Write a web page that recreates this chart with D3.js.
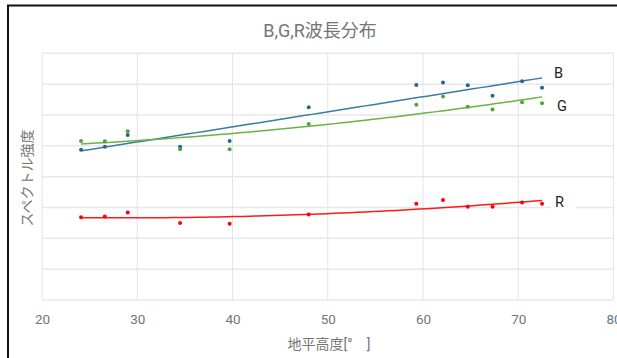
<!DOCTYPE html>
<html><head><meta charset="utf-8">
<script src="https://cdn.jsdelivr.net/npm/d3@7"></script>
<style>body{margin:0;background:#fff}svg{display:block}</style>
</head><body><svg id="c" width="617" height="358"></svg>
<script>
const altitude = [24.1, 26.6, 29.0, 34.5, 39.7, 48.0, 59.3, 62.1, 64.7, 67.3, 70.4, 72.5];
const blueValues  = [4.87, 4.97, 5.35, 4.97, 5.16, 6.25, 6.97, 7.05, 6.96, 6.62, 7.09, 6.88];
const greenValues = [5.16, 5.15, 5.47, 4.89, 4.89, 5.71, 6.33, 6.60, 6.27, 6.18, 6.41, 6.38];
const redValues   = [2.68, 2.71, 2.84, 2.50, 2.47, 2.77, 3.12, 3.24, 3.02, 3.02, 3.16, 3.12];
const seriesNames = ["B", "G", "R"];
const trendOrder = [1, 2, 2];
const xTicks = [20, 30, 40, 50, 60, 70, 80];
const yGrid = [0, 1, 2, 3, 4, 5, 6, 7, 8];
const title = "B,G,R波長分布";
const xTitle = "地平高度[°\u2002\u2002]";
const yTitle = "スペクトル強度";

const svg = d3.select("#c");
const x = d3.scaleLinear().domain([20, 80]).range([42, 613.5]);
const y = d3.scaleLinear().domain([0, 8]).range([300, 53.3]);

// black frame (cropped screenshot edge)
svg.append("line").attr("x1", 8).attr("x2", 8).attr("y1", 5).attr("y2", 358).attr("stroke", "#111").attr("stroke-width", 2);
svg.append("line").attr("x1", 7).attr("x2", 617).attr("y1", 5.5).attr("y2", 5.5).attr("stroke", "#111").attr("stroke-width", 2);

// gridlines
svg.append("g").selectAll("line").data(yGrid).join("line")
  .attr("x1", x(20)).attr("x2", x(80)).attr("y1", d => y(d)).attr("y2", d => y(d))
  .attr("stroke", "#e8e8e8").attr("stroke-width", 1.5);
svg.append("g").selectAll("line").data(xTicks).join("line")
  .attr("x1", d => x(d)).attr("x2", d => x(d)).attr("y1", y(8)).attr("y2", y(0))
  .attr("stroke", "#e4e4e4").attr("stroke-width", 1);

// x axis labels
const xAxis = d3.axisBottom(x).tickValues(xTicks).tickSize(0).tickPadding(14).tickFormat(d3.format("d"));
const gx = svg.append("g").attr("transform", `translate(0,${y(0)})`).call(xAxis);
gx.select(".domain").remove();
gx.selectAll("text").attr("font-family", "Roboto, sans-serif").attr("font-size", 13.5).attr("fill", "#757575");

// titles
svg.append("text").attr("x", 320).attr("y", 37).attr("text-anchor", "middle")
  .attr("font-family", "Roboto, 'Noto Sans CJK JP', sans-serif").attr("font-size", 18).attr("fill", "#757575").text(title);
svg.append("text").attr("x", 329).attr("y", 349).attr("text-anchor", "middle")
  .attr("font-family", "Roboto, 'Noto Sans CJK JP', sans-serif").attr("font-size", 14).attr("fill", "#757575").text(xTitle);
svg.append("text").attr("transform", "translate(32,178) rotate(-90)").attr("text-anchor", "middle")
  .attr("font-family", "Roboto, 'Noto Sans CJK JP', sans-serif").attr("font-size", 14).attr("fill", "#757575").text(yTitle);

// polynomial least squares fit
function polyfit(xs, ys, order) {
  const n = order + 1;
  const A = Array.from({length: n}, () => new Array(n + 1).fill(0));
  for (let i = 0; i < xs.length; i++) {
    for (let r = 0; r < n; r++) {
      for (let c = 0; c < n; c++) A[r][c] += Math.pow(xs[i], r + c);
      A[r][n] += ys[i] * Math.pow(xs[i], r);
    }
  }
  for (let p = 0; p < n; p++) {
    let m = p;
    for (let r = p + 1; r < n; r++) if (Math.abs(A[r][p]) > Math.abs(A[m][p])) m = r;
    [A[p], A[m]] = [A[m], A[p]];
    for (let r = 0; r < n; r++) {
      if (r === p) continue;
      const f = A[r][p] / A[p][p];
      for (let c = p; c <= n; c++) A[r][c] -= f * A[p][c];
    }
  }
  const coef = A.map((row, i) => row[n] / row[i]);
  return v => coef.reduce((s, c, i) => s + c * Math.pow(v, i), 0);
}

const series = [
  {name: seriesNames[0], values: blueValues, order: trendOrder[0], line: "#3b7ba3", dot: "#27668f", dy: -5, dx: 12},
  {name: seriesNames[1], values: greenValues, order: trendOrder[1], line: "#6ab344", dot: "#50a53a", dy: 9, dx: 15},
  {name: seriesNames[2], values: redValues, order: trendOrder[2], line: "#ff1a1a", dot: "#ff0000", dy: 2, dx: 13},
];

const xmin = d3.min(altitude), xmax = d3.max(altitude);
const samples = d3.range(0, 61).map(i => xmin + (xmax - xmin) * i / 60);

series.forEach(s => {
  const f = polyfit(altitude, s.values, s.order);
  svg.append("path").datum(samples)
    .attr("d", d3.line().x(d => x(d)).y(d => y(f(d))))
    .attr("fill", "none").attr("stroke", s.line).attr("stroke-width", 1.5);
  svg.append("g").selectAll("circle").data(altitude).join("circle")
    .attr("cx", d => x(d)).attr("cy", (d, i) => y(s.values[i])).attr("r", 2).attr("fill", s.dot);
  const lx = x(xmax) + s.dx, ly = y(f(xmax)) + s.dy;
  if (s.name === "R") {
    svg.append("rect").attr("x", lx - 4).attr("y", ly - 9).attr("width", 25).attr("height", 18).attr("fill", "#fff");
  }
  svg.append("text").attr("x", lx).attr("y", ly).attr("dy", "0.35em")
    .attr("font-family", "Roboto, sans-serif").attr("font-size", 14.5).attr("fill", "#222").text(s.name);
});
</script></body></html>
